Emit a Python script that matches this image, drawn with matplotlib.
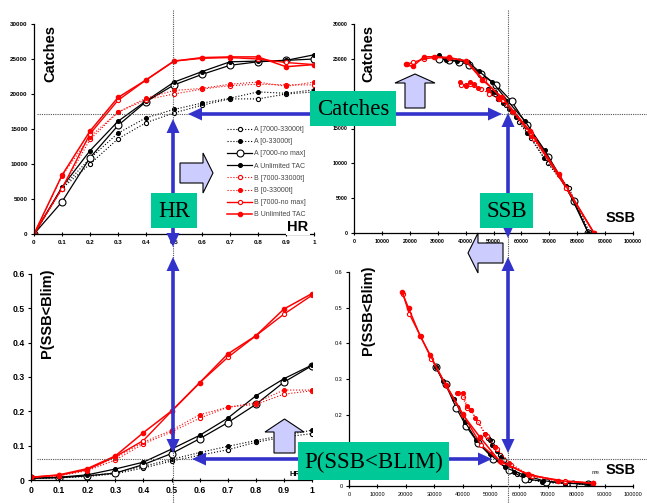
import matplotlib.pyplot as plt
from matplotlib.patches import Polygon, Rectangle
from matplotlib.ticker import FuncFormatter, MultipleLocator

# harvest rate
hr = [0, 0.1, 0.2, 0.3, 0.4, 0.5, 0.6, 0.7, 0.8, 0.9, 1.0]

labels = ["A [7000-33000t]", "A [0-33000t]", "A [7000-no max]", "A Unlimited TAC",
          "B [7000-33000t]", "B [0-33000t]", "B [7000-no max]", "B Unlimited TAC"]

catch_a1 = [0, 6500, 10000, 13600, 15900, 17300, 18400, 19300, 19300, 20000, 20300]
catch_a2 = [0, 6600, 10800, 14400, 16600, 17800, 18700, 19400, 20300, 20100, 20600]
catch_a3 = [0, 4600, 10900, 15500, 18900, 21300, 22800, 24100, 24600, 24800, 25000]
catch_a4 = [0, 6700, 11900, 16100, 19000, 21700, 23200, 24600, 24700, 24800, 25600]
catch_b1 = [0, 6500, 13500, 17400, 19200, 20000, 20700, 21200, 21400, 21300, 21300]
catch_b2 = [0, 8300, 13900, 17400, 19400, 20500, 20800, 21400, 21700, 21100, 21700]
catch_b3 = [0, 6500, 14300, 19100, 22000, 24700, 25100, 25200, 25000, 24500, 24200]
catch_b4 = [0, 8400, 14700, 19500, 22000, 24700, 25200, 25300, 25300, 23900, 24200]

p_a1 = [0.005, 0.006, 0.010, 0.018, 0.035, 0.055, 0.072, 0.088, 0.110, 0.125, 0.135]
p_a2 = [0.005, 0.007, 0.012, 0.021, 0.040, 0.060, 0.080, 0.098, 0.115, 0.130, 0.145]
p_a3 = [0.005, 0.007, 0.012, 0.020, 0.045, 0.077, 0.120, 0.167, 0.220, 0.285, 0.333]
p_a4 = [0.005, 0.008, 0.015, 0.032, 0.052, 0.090, 0.130, 0.180, 0.245, 0.295, 0.335]
p_b1 = [0.008, 0.012, 0.027, 0.058, 0.105, 0.140, 0.180, 0.212, 0.220, 0.250, 0.260]
p_b2 = [0.008, 0.013, 0.030, 0.065, 0.110, 0.145, 0.190, 0.212, 0.225, 0.262, 0.262]
p_b3 = [0.008, 0.014, 0.030, 0.068, 0.115, 0.200, 0.283, 0.357, 0.420, 0.483, 0.538]
p_b4 = [0.008, 0.015, 0.033, 0.070, 0.138, 0.201, 0.283, 0.367, 0.420, 0.498, 0.543]

ssb_a1 = [84500, 77000, 69500, 63500, 59000, 56500, 54500, 53000, 51500, 50500, 49000]
ssb_a2 = [84500, 76000, 68000, 62000, 58000, 55500, 53500, 52000, 50500, 49500, 48000]
ssb_a3 = [84000, 78800, 69500, 62000, 56500, 50800, 45500, 41300, 37700, 34000, 30500]
ssb_a4 = [84000, 76000, 68300, 61200, 55000, 49500, 44800, 40800, 37000, 33000, 30500]
ssb_b1 = [86000, 76000, 64500, 57000, 52000, 48500, 45500, 43000, 41500, 40000, 38500]
ssb_b2 = [86000, 73500, 63500, 56500, 51500, 48000, 44500, 43000, 41500, 40000, 38000]
ssb_b3 = [86000, 76000, 63500, 53500, 46500, 40200, 34200, 29000, 25200, 21200, 19000]
ssb_b4 = [86000, 73500, 63000, 53000, 46000, 40000, 34000, 28600, 25100, 21000, 18700]

catches = [catch_a1, catch_a2, catch_a3, catch_a4, catch_b1, catch_b2, catch_b3, catch_b4]
probs = [p_a1, p_a2, p_a3, p_a4, p_b1, p_b2, p_b3, p_b4]
ssbs = [ssb_a1, ssb_a2, ssb_a3, ssb_a4, ssb_b1, ssb_b2, ssb_b3, ssb_b4]

RED = '#ff0000'
styles = [
    dict(color='black', ls=':', lw=0.8, marker='o', ms=3, mfc='white'),
    dict(color='black', ls=':', lw=0.8, marker='o', ms=2.8, mfc='black'),
    dict(color='black', ls='-', lw=0.9, marker='o', ms=5, mfc='white'),
    dict(color='black', ls='-', lw=0.9, marker='o', ms=2.8, mfc='black'),
    dict(color=RED, ls=':', lw=0.8, marker='o', ms=3, mfc='white'),
    dict(color=RED, ls=':', lw=0.8, marker='o', ms=2.8, mfc=RED),
    dict(color=RED, ls='-', lw=1.0, marker='o', ms=3, mfc='white'),
    dict(color=RED, ls='-', lw=1.1, marker='o', ms=3.2, mfc=RED),
]

plt.rcParams['font.family'] = ['Liberation Sans', 'DejaVu Sans']

W, H = 647, 503
fig = plt.figure(figsize=(W / 100, H / 100), dpi=100)


def box(l, t, r, b):
    return [l / W, 1 - b / H, (r - l) / W, (b - t) / H]


fmt = FuncFormatter(lambda v, pos: '%g' % round(v, 6))


def style_axes(ax, size, bold=True):
    for s in ['top', 'right']:
        ax.spines[s].set_visible(False)
    for s in ['left', 'bottom']:
        ax.spines[s].set_linewidth(0.9)
    ax.tick_params(axis='y', direction='out', length=2.5, width=0.8, pad=2, labelsize=size)
    ax.tick_params(axis='x', direction='inout', length=3, width=0.8, pad=3, labelsize=size)
    ax.xaxis.set_major_formatter(fmt)
    ax.yaxis.set_major_formatter(fmt)
    for t in ax.get_xticklabels() + ax.get_yticklabels():
        t.set_fontweight('bold' if bold else 'normal')


ax_tl = fig.add_axes(box(34, 24, 314, 234))
ax_tr = fig.add_axes(box(354, 24, 633, 233))
ax_bl = fig.add_axes(box(31, 274, 312, 480))
ax_br = fig.add_axes(box(349, 272, 633, 486))

for c, p, s, lab, st in zip(catches, probs, ssbs, labels, styles):
    ax_tl.plot(hr, c, label=lab, mew=0.8, **st)
    ax_tr.plot(s, c, mew=0.8, **st)
    ax_bl.plot(hr, p, mew=0.8, **st)
    ax_br.plot(s, p, mew=0.8, **st)

for ax in (ax_tl, ax_bl):
    ax.set_xlim(0, 1)
    ax.xaxis.set_major_locator(MultipleLocator(0.1))
for ax in (ax_tr, ax_br):
    ax.set_xlim(0, 100000)
    ax.xaxis.set_major_locator(MultipleLocator(10000))
for ax in (ax_tl, ax_tr):
    ax.set_ylim(0, 30000)
    ax.yaxis.set_major_locator(MultipleLocator(5000))
for ax in (ax_bl, ax_br):
    ax.set_ylim(0, 0.6)
    ax.yaxis.set_major_locator(MultipleLocator(0.1))

style_axes(ax_tl, 4.5)
style_axes(ax_tr, 3.8)
style_axes(ax_bl, 6.2)
style_axes(ax_br, 4.0, bold=False)

leg = ax_tl.legend(loc='upper left', bbox_to_anchor=(227 / W, 1 - 126 / H),
                   bbox_transform=fig.transFigure, frameon=False, fontsize=5,
                   handlelength=3.6, handletextpad=0.3, labelspacing=0.75,
                   borderpad=0, borderaxespad=0)
for t in leg.get_texts():
    t.set_color('#444444')

# overlay in pixel coordinates
ov = fig.add_axes([0, 0, 1, 1])
ov.set_xlim(0, W)
ov.set_ylim(H, 0)
ov.axis('off')
ov.patch.set_alpha(0)

# axis titles
bold = dict(fontweight='bold', color='black')
ov.text(50, 53, 'Catches', rotation=90, ha='center', va='center', fontsize=10.5, **bold)
ov.text(368, 53, 'Catches', rotation=90, ha='center', va='center', fontsize=10.5, **bold)
ov.text(47, 313, 'P(SSB<Blim)', rotation=90, ha='center', va='center', fontsize=10.5, **bold)
ov.text(368, 310, 'P(SSB<Blim)', rotation=90, ha='center', va='center', fontsize=10.5, **bold)
ov.text(298, 227, 'HR', ha='center', va='center', fontsize=10.5, zorder=2,
        bbox=dict(fc='white', ec='none', pad=1), **bold)
ov.text(621, 218, 'SSB', ha='center', va='center', fontsize=10.5, **bold)
ov.text(621, 470, 'SSB', ha='center', va='center', fontsize=10.5, **bold)
hc = ov.text(290, 474, 'HR', ha='left', va='center', fontsize=5.5, **bold)
hc.set_clip_path(Rectangle((280, 460), 18, 30, transform=ov.transData))
ov.text(596, 473, 'me', ha='center', va='center', fontsize=4, fontweight='bold', color='#555555')

# cross-hair dotted lines
dot = dict(color='#555555', lw=0.8, ls=(0, (1, 1)), zorder=1)
ov.plot([173, 173], [10, H], **dot)
ov.plot([508, 508], [10, H], **dot)
ov.plot([37, W], [114, 114], **dot)
ov.plot([37, W], [459, 459], **dot)

# block arrows
lav = dict(closed=True, fc='#ccccff', ec='black', lw=0.8, zorder=3)
ov.add_patch(Polygon([(180, 163), (203, 163), (203, 153), (213, 173), (203, 193),
                      (203, 183), (180, 183)], **lav))
ov.add_patch(Polygon([(405, 108), (405, 83), (395, 83), (415, 74), (435, 83),
                      (425, 83), (425, 108)], **lav))
ov.add_patch(Polygon([(274, 453), (274, 432), (265, 432), (284.5, 419), (304, 432),
                      (295, 432), (295, 453)], **lav))
ov.add_patch(Polygon([(503, 243), (478, 243), (478, 233), (468, 253), (478, 273),
                      (478, 263), (503, 263)], **lav))

BLUE = '#3333cc'
HL, HW = 14, 6.5


def blue_arrow(x0, y0, x1, y1):
    if y0 == y1:
        ov.plot([x0 + HL, x1 - HL], [y0, y1], color=BLUE, lw=2.6, zorder=4,
                solid_capstyle='butt')
        ov.add_patch(Polygon([(x0, y0), (x0 + HL, y0 - HW), (x0 + HL, y0 + HW)],
                             closed=True, fc=BLUE, ec='none', zorder=4))
        ov.add_patch(Polygon([(x1, y1), (x1 - HL, y1 - HW), (x1 - HL, y1 + HW)],
                             closed=True, fc=BLUE, ec='none', zorder=4))
    else:
        ov.plot([x0, x1], [y0 + HL, y1 - HL], color=BLUE, lw=2.6, zorder=4,
                solid_capstyle='butt')
        ov.add_patch(Polygon([(x0, y0), (x0 - HW, y0 + HL), (x0 + HW, y0 + HL)],
                             closed=True, fc=BLUE, ec='none', zorder=4))
        ov.add_patch(Polygon([(x1, y1), (x1 - HW, y1 - HL), (x1 + HW, y1 - HL)],
                             closed=True, fc=BLUE, ec='none', zorder=4))


blue_arrow(188, 114, 502, 114)
blue_arrow(173, 119, 173, 247)
blue_arrow(173, 257, 173, 453)
blue_arrow(508, 113, 508, 238)
blue_arrow(508, 257, 508, 453)
blue_arrow(192, 459, 492, 459)

# green labels
GREEN = '#00c896'
serif = ['Liberation Serif', 'DejaVu Serif']
for (l, t, r, b, txt) in [(310, 91, 396, 126, 'Catches'),
                          (151, 193, 197, 228, 'HR'),
                          (480, 193, 533, 228, 'SSB'),
                          (298, 442, 449, 480, 'P(SSB<BLIM)')]:
    ov.add_patch(Rectangle((l, t), r - l, b - t, fc=GREEN, ec='none', zorder=5))
    ov.text((l + r) / 2, (t + b) / 2 + 1, txt, ha='center', va='center',
            fontsize=16.5, family=serif, color='black', zorder=6)

fig.savefig('out.png', dpi=100)
